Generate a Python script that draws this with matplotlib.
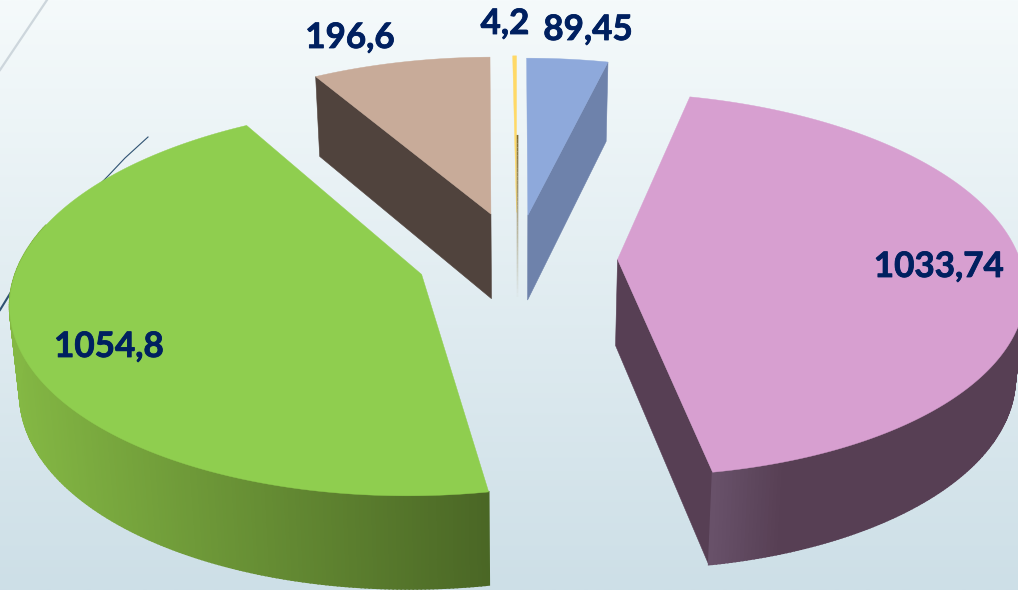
import numpy as np
import matplotlib
matplotlib.use("Agg")
import matplotlib.pyplot as plt
import matplotlib.patheffects as pe
from matplotlib.colors import to_rgb

# chart data, clockwise from 12 o'clock
values = [89.45, 1033.74, 1054.8, 196.6, 4.2]
top_colors = ["#8ea9db", "#d79fd0", "#8fce4f", "#c8ab99", "#ffd966"]
face_colors = ["#6e82ab", "#573f54", "#4a6625", "#50433d", "#7f6a30"]

# slice look
explode = [0.235, 0.25, 0.25, 0.25, 0.25]
cut_side = ["end", "end", None, "start", None]
label_xy = [(588, 30), (939, 267), (109, 347), (350, 38), (505, 24)]

# perspective of the pie plane, in pixels
cx, cy = 517, 258
rx, ry = 402, 188
persp = 0.13
depth = 86


def project(x, y, z=0.0):
    w = 1 + persp * np.asarray(y)
    sx = cx + rx * np.asarray(x) / w * (1 - 0.02 * z)
    sy = cy - ry * np.asarray(y) / w + depth * z / (1 + 0.07 * np.asarray(y))
    return sx, sy


def wall_color(i, mx):
    if i == 2:
        f = np.clip((mx - 10) / 480, 0, 1)
        return np.array(to_rgb("#84b844")) * (1 - f) + np.array(to_rgb("#4a6625")) * f
    if i == 1:
        f = np.clip((mx - 713) / 70, 0, 1)
        return np.array(to_rgb("#68516a")) * (1 - f) + np.array(to_rgb("#573f54")) * f
    return np.array(to_rgb(face_colors[i]))


fig = plt.figure(figsize=(10.18, 5.9), dpi=100)
ax = fig.add_axes([0, 0, 1, 1])
ax.set_xlim(0, 1018)
ax.set_ylim(590, 0)
ax.axis("off")

# background
top_bg = np.array(to_rgb("#f5fafb"))
bot_bg = np.array(to_rgb("#cddfe7"))
t = np.linspace(0, 1, 256)[:, None, None]
ax.imshow(top_bg[None, None, :] * (1 - t) + bot_bg[None, None, :] * t,
          extent=[0, 1018, 590, 0], aspect="auto", zorder=0)

# thin decoration lines behind the pie
ax.plot([47, 0], [0, 70], color="#cdd6dc", lw=1.6, zorder=1)
ax.plot([148, 125, 108, 60], [137, 158, 176, 225], color="#2f5272", lw=0.8, zorder=1)
ax.plot([11, 0], [292, 310], color="#2f5272", lw=1.5, zorder=1)

total = sum(values)
start = 0.0
for i, v in enumerate(values):
    sweep = v / total * 360
    end = start + sweep
    mid = np.radians(start + sweep / 2)
    ox, oy = explode[i] * np.sin(mid), explode[i] * np.cos(mid)
    ang = np.linspace(start, end, max(int(sweep * 2), 4))
    ex = ox + np.sin(np.radians(ang))
    ey = oy + np.cos(np.radians(ang))

    # cut face
    if cut_side[i]:
        k = -1 if cut_side[i] == "end" else 0
        px, py = project(np.array([ox, ex[k], ex[k], ox]),
                         np.array([oy, ey[k], ey[k], oy]),
                         np.array([0, 0, 1, 1]))
        ax.fill(px, py, color=face_colors[i], lw=0.4, zorder=2)

    # outer wall, only the part that faces us
    tx0, ty0 = project(ex, ey, 0)
    bx0, by0 = project(ex, ey, 1)
    for j in range(len(ex) - 1):
        if not 92 < ang[j] < 285:
            continue
        c = wall_color(i, (tx0[j] + tx0[j + 1]) / 2)
        ax.fill([tx0[j], tx0[j + 1], bx0[j + 1], bx0[j]],
                [ty0[j], ty0[j + 1], by0[j + 1], by0[j]],
                color=tuple(c), lw=1.2, zorder=2)

    # top face
    sx, sy = project(np.r_[ox, ex], np.r_[oy, ey], 0)
    ax.fill(sx, sy, color=top_colors[i], lw=0.3, zorder=3)

    # thin gold slice: dark sliver over it that fades out downward
    if i == 4:
        lx0, ly0 = project(ex[-1], ey[-1], 1)
        lx1, ly1 = project(ox, oy, 1)
        for a in np.linspace(0, 1, 40)[:-1]:
            b = a + 1 / 39
            ax.plot([lx0 + (lx1 - lx0) * a + 1, lx0 + (lx1 - lx0) * b + 1],
                    [ly0 + (ly1 - ly0) * a, ly0 + (ly1 - ly0) * b],
                    color=face_colors[i], lw=1.2, alpha=1 - a,
                    solid_capstyle="butt", zorder=4)

    ax.text(label_xy[i][0], label_xy[i][1], str(v).replace(".", ","),
            family="Lato", weight="bold", fontsize=25.2, color="#002060",
            ha="center", va="center", zorder=5,
            path_effects=[pe.withStroke(linewidth=0.6, foreground="#002060")])
    start = end

fig.savefig("out.png", dpi=100)
